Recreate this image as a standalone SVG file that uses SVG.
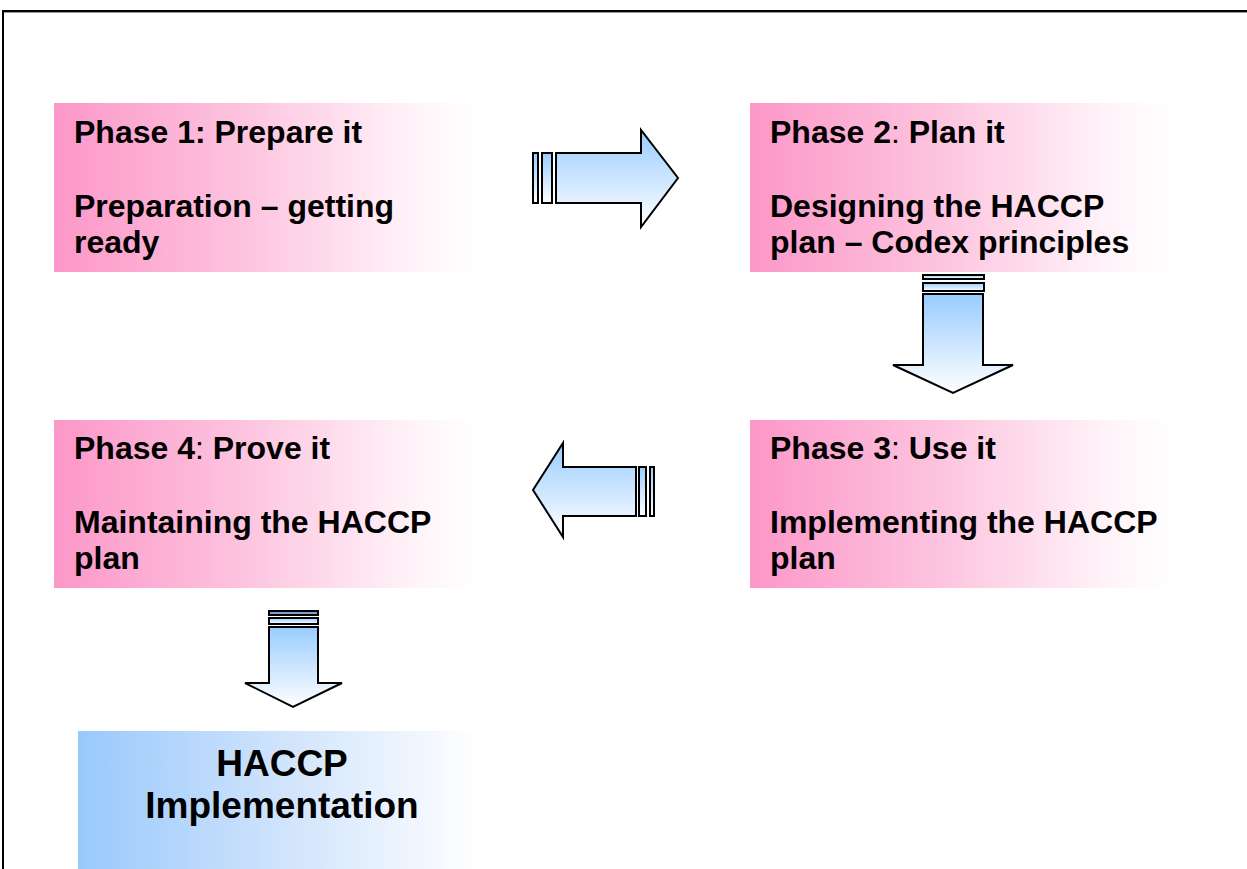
<svg xmlns="http://www.w3.org/2000/svg" width="1247" height="869" viewBox="0 0 1247 869">
<defs>
<linearGradient id="pink" x1="0" y1="0" x2="1" y2="0">
<stop offset="0" stop-color="#fc97c8"/>
<stop offset="0.45" stop-color="#fdc4df"/>
<stop offset="0.85" stop-color="#fff4f9"/>
<stop offset="1" stop-color="#ffffff"/>
</linearGradient>
<linearGradient id="blue" x1="0" y1="0" x2="1" y2="0">
<stop offset="0" stop-color="#99c9fc"/>
<stop offset="0.5" stop-color="#cfe3fc"/>
<stop offset="1" stop-color="#ffffff"/>
</linearGradient>
<linearGradient id="arr" x1="0" y1="0" x2="0" y2="1">
<stop offset="0" stop-color="#99ccff"/>
<stop offset="1" stop-color="#ffffff"/>
</linearGradient>
</defs>
<style>
.t{font-family:"Liberation Sans",Arial,sans-serif;font-weight:bold;font-size:32px;fill:#000}
.big{font-size:37px}
.a{fill:url(#arr);stroke:#000;stroke-width:2;stroke-linejoin:miter}
</style>
<rect width="1247" height="869" fill="#fff"/>
<path d="M3,869 V11 H1247" fill="none" stroke="#000" stroke-width="2"/>
<path d="M4,12.5 H1247" fill="none" stroke="#999" stroke-width="1"/>

<g id="phase1">
<rect x="54" y="103" width="426" height="169" fill="url(#pink)"/>
<text class="t" x="74" y="143">Phase 1: Prepare it</text>
<text class="t" x="74" y="217">Preparation – getting</text>
<text class="t" x="74" y="253">ready</text>
</g>
<g id="phase2">
<rect x="750" y="103" width="425" height="169" fill="url(#pink)"/>
<text class="t" x="770" y="143">Phase 2<tspan font-weight="normal">:</tspan> Plan it</text>
<text class="t" x="770" y="217">Designing the HACCP</text>
<text class="t" x="770" y="253">plan – Codex principles</text>
</g>
<g id="phase3">
<rect x="750" y="420" width="425" height="168" fill="url(#pink)"/>
<text class="t" x="770" y="459">Phase 3<tspan font-weight="normal">:</tspan> Use it</text>
<text class="t" x="770" y="533">Implementing the HACCP</text>
<text class="t" x="770" y="569">plan</text>
</g>
<g id="phase4">
<rect x="54" y="420" width="426" height="168" fill="url(#pink)"/>
<text class="t" x="74" y="459">Phase 4<tspan font-weight="normal">:</tspan> Prove it</text>
<text class="t" x="74" y="533">Maintaining the HACCP</text>
<text class="t" x="74" y="569">plan</text>
</g>
<g id="haccp">
<rect x="78" y="731" width="402" height="138" fill="url(#blue)"/>
<text class="t big" x="282" y="776" text-anchor="middle">HACCP</text>
<text class="t big" x="282" y="818" text-anchor="middle">Implementation</text>
</g>

<g id="connectors">
<g id="arrow-right">
<rect class="a" x="533" y="153" width="5" height="50"/>
<rect class="a" x="542" y="153" width="10" height="50"/>
<path class="a" d="M556,153 H641 V130 L678,178 L641,227 V203 H556 Z"/>
</g>
<g id="arrow-down-1">
<rect class="a" x="923" y="275" width="61" height="4"/>
<rect class="a" x="923" y="283" width="61" height="8"/>
<path class="a" d="M923,294 V365 H893 L953,393 L1013,365 H983 V294 Z"/>
</g>
<g id="arrow-left">
<rect class="a" x="650" y="467" width="4" height="49"/>
<rect class="a" x="639" y="467" width="7" height="49"/>
<path class="a" d="M636,467 H563 V443 L533,490 L563,537 V516 H636 Z"/>
</g>
<g id="arrow-down-2">
<rect x="269" y="611" width="49" height="4" fill="#7aa3d0" stroke="#000" stroke-width="2"/>
<rect class="a" x="269" y="618" width="49" height="6"/>
<path class="a" d="M269,627 V683 H245 L293,707 L342,683 H318 V627 Z"/>
</g>
</g>
</svg>
